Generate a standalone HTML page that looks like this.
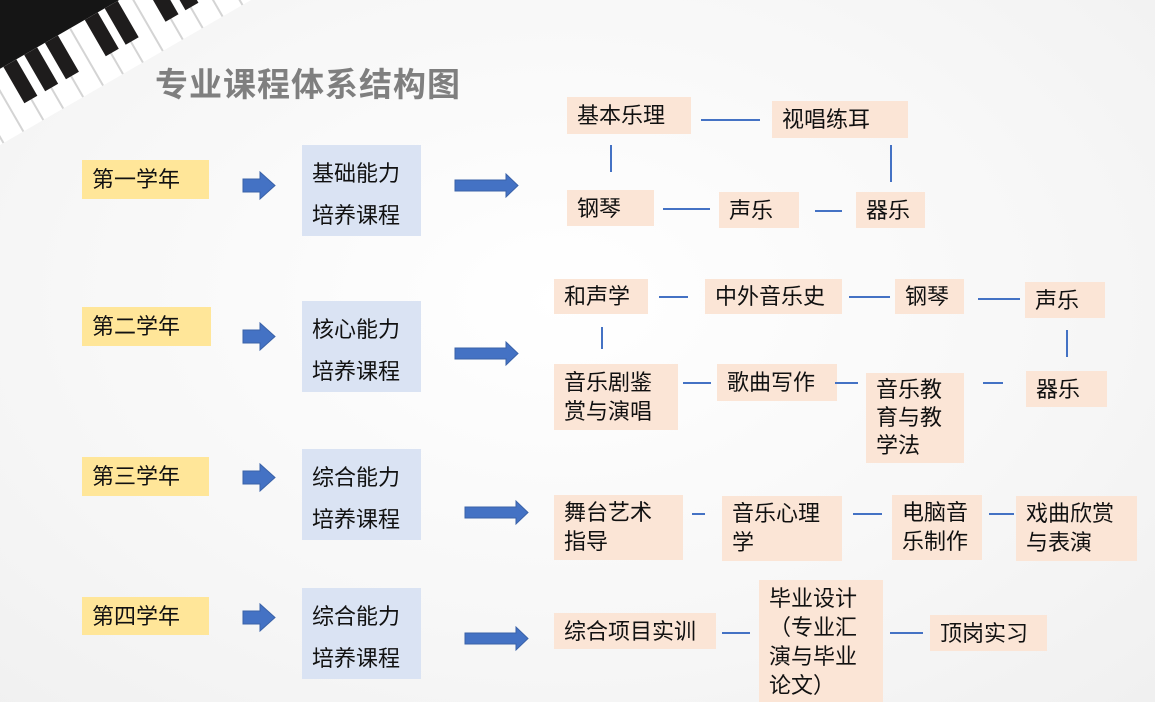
<!DOCTYPE html>
<html><head><meta charset="utf-8"><style>
html,body{margin:0;padding:0}
body{width:1155px;height:702px;position:relative;overflow:hidden;
background:radial-gradient(ellipse 900px 600px at 560px 300px,#ffffff 0%,#f7f7f7 55%,#efefef 100%);
font-family:"Liberation Sans","Noto Sans CJK SC",sans-serif;color:#111}
.b{position:absolute;box-sizing:border-box;font-size:22px;line-height:29px;padding-left:10px}
.y{background:#ffe699;display:flex;align-items:center}
.bl{background:#dae3f3;line-height:42px;padding-top:8px}
.p{background:#fbe5d6}
.c{display:flex;align-items:center}
.h{position:absolute;height:1.5px;background:#4472c4}
.v{position:absolute;width:1.5px;background:#4472c4}
.t{position:absolute;left:155px;top:58px;font-size:33px;font-weight:bold;color:#7f7f7f;letter-spacing:1px}
</style></head><body>
<svg width="330" height="170" style="position:absolute;left:0;top:0">
<polygon points="0,0 200,0 0,115" fill="#151515"/>
<g transform="translate(0,145) rotate(-30)">
<rect x="-40" y="-66" width="400" height="66" fill="#ffffff"/>
<g fill="#d4d4d4">
<rect x="-20" y="-66" width="2" height="66"/><rect x="3" y="-66" width="2" height="66"/><rect x="26" y="-66" width="2" height="66"/><rect x="49" y="-66" width="2" height="66"/><rect x="72" y="-66" width="2" height="66"/><rect x="95" y="-66" width="2" height="66"/><rect x="118" y="-66" width="2" height="66"/><rect x="141" y="-66" width="2" height="66"/><rect x="164" y="-66" width="2" height="66"/><rect x="187" y="-66" width="2" height="66"/><rect x="210" y="-66" width="2" height="66"/><rect x="233" y="-66" width="2" height="66"/><rect x="256" y="-66" width="2" height="66"/><rect x="279" y="-66" width="2" height="66"/><rect x="302" y="-66" width="2" height="66"/><rect x="325" y="-66" width="2" height="66"/>
</g>
<g fill="#1e1c1c">
<rect x="-5" y="-66" width="15" height="42"/><rect x="42" y="-66" width="15" height="42"/><rect x="66" y="-66" width="15" height="42"/><rect x="90" y="-66" width="15" height="42"/><rect x="136" y="-66" width="15" height="42"/><rect x="159" y="-66" width="15" height="42"/><rect x="205" y="-66" width="15" height="42"/><rect x="228" y="-66" width="15" height="42"/><rect x="252" y="-66" width="15" height="42"/><rect x="298" y="-66" width="15" height="42"/><rect x="321" y="-66" width="15" height="42"/>
</g>
</g>
</svg>
<div class="t">专业课程体系结构图</div>

<svg width="1155" height="702" style="position:absolute;left:0;top:0" fill="#4472c4" stroke="#3a62a8" stroke-width="1">
<polygon points="243,179 260,179 260,172 275,185.5 260,199 260,192 243,192"/>
<polygon points="243,330 260,330 260,323 275,336.5 260,350 260,343 243,343"/>
<polygon points="243,471 260,471 260,464 275,477.5 260,491 260,484 243,484"/>
<polygon points="243,611 260,611 260,604 275,617.5 260,631 260,624 243,624"/>
<polygon points="455,180 506,180 506,174 518,185.5 506,197 506,191 455,191"/>
<polygon points="455,348 506,348 506,342 518,353.5 506,365 506,359 455,359"/>
<polygon points="465,507 516,507 516,501 528,512.5 516,524 516,518 465,518"/>
<polygon points="465,633 516,633 516,627 528,638.5 516,650 516,644 465,644"/>
</svg>

<div class="b y" style="left:82px;top:160px;width:127px;height:39px">第一学年</div>
<div class="b y" style="left:82px;top:307px;width:129px;height:39px">第二学年</div>
<div class="b y" style="left:82px;top:457px;width:127px;height:39px">第三学年</div>
<div class="b y" style="left:82px;top:597px;width:127px;height:38px">第四学年</div>

<div class="b bl" style="left:302px;top:145px;width:119px;height:91px">基础能力<br>培养课程</div>
<div class="b bl" style="left:302px;top:301px;width:119px;height:91px">核心能力<br>培养课程</div>
<div class="b bl" style="left:302px;top:449px;width:119px;height:91px">综合能力<br>培养课程</div>
<div class="b bl" style="left:302px;top:588px;width:119px;height:91px">综合能力<br>培养课程</div>

<div class="b p c" style="left:567px;top:97px;width:124px;height:37px">基本乐理</div>
<div class="b p c" style="left:772px;top:101px;width:136px;height:37px">视唱练耳</div>
<div class="b p c" style="left:567px;top:190px;width:87px;height:36px">钢琴</div>
<div class="b p c" style="left:719px;top:192px;width:80px;height:36px">声乐</div>
<div class="b p c" style="left:856px;top:192px;width:69px;height:36px">器乐</div>
<div class="h" style="left:701px;top:119px;width:59px"></div>
<div class="v" style="left:610px;top:145px;height:27px"></div>
<div class="v" style="left:890px;top:145px;height:37px"></div>
<div class="h" style="left:663px;top:208px;width:47px"></div>
<div class="h" style="left:815px;top:210px;width:27px"></div>

<div class="b p c" style="left:554px;top:279px;width:94px;height:35px">和声学</div>
<div class="b p c" style="left:705px;top:279px;width:137px;height:35px">中外音乐史</div>
<div class="b p c" style="left:895px;top:279px;width:69px;height:35px">钢琴</div>
<div class="b p c" style="left:1025px;top:282px;width:80px;height:36px">声乐</div>
<div class="h" style="left:659px;top:296px;width:29px"></div>
<div class="h" style="left:849px;top:296px;width:41px"></div>
<div class="h" style="left:978px;top:298px;width:42px"></div>
<div class="v" style="left:601px;top:327px;height:22px"></div>
<div class="v" style="left:1066px;top:330px;height:27px"></div>

<div class="b p" style="left:554px;top:364px;width:124px;height:66px;padding-top:4px">音乐剧鉴<br>赏与演唱</div>
<div class="b p c" style="left:717px;top:364px;width:120px;height:37px">歌曲写作</div>
<div class="b p" style="left:866px;top:373px;width:98px;height:90px;padding-top:3px;line-height:28px">音乐教<br>育与教<br>学法</div>
<div class="b p c" style="left:1026px;top:371px;width:81px;height:36px">器乐</div>
<div class="h" style="left:683px;top:382px;width:28px"></div>
<div class="h" style="left:835px;top:382px;width:23px"></div>
<div class="h" style="left:983px;top:382px;width:20px"></div>

<div class="b p" style="left:554px;top:495px;width:129px;height:65px;padding-top:3px">舞台艺术<br>指导</div>
<div class="b p" style="left:722px;top:496px;width:120px;height:65px;padding-top:3px">音乐心理<br>学</div>
<div class="b p" style="left:892px;top:495px;width:90px;height:65px;padding-top:3px">电脑音<br>乐制作</div>
<div class="b p" style="left:1016px;top:496px;width:121px;height:65px;padding-top:3px">戏曲欣赏<br>与表演</div>
<div class="h" style="left:692px;top:513px;width:13px"></div>
<div class="h" style="left:853px;top:513px;width:29px"></div>
<div class="h" style="left:989px;top:513px;width:25px"></div>

<div class="b p c" style="left:554px;top:613px;width:162px;height:36px">综合项目实训</div>
<div class="b p" style="left:759px;top:580px;width:124px;height:122px;padding-top:4px">毕业设计<br>（专业汇<br>演与毕业<br>论文）</div>
<div class="b p c" style="left:930px;top:615px;width:117px;height:36px">顶岗实习</div>
<div class="h" style="left:722px;top:632px;width:28px"></div>
<div class="h" style="left:890px;top:632px;width:33px"></div>
</body></html>
